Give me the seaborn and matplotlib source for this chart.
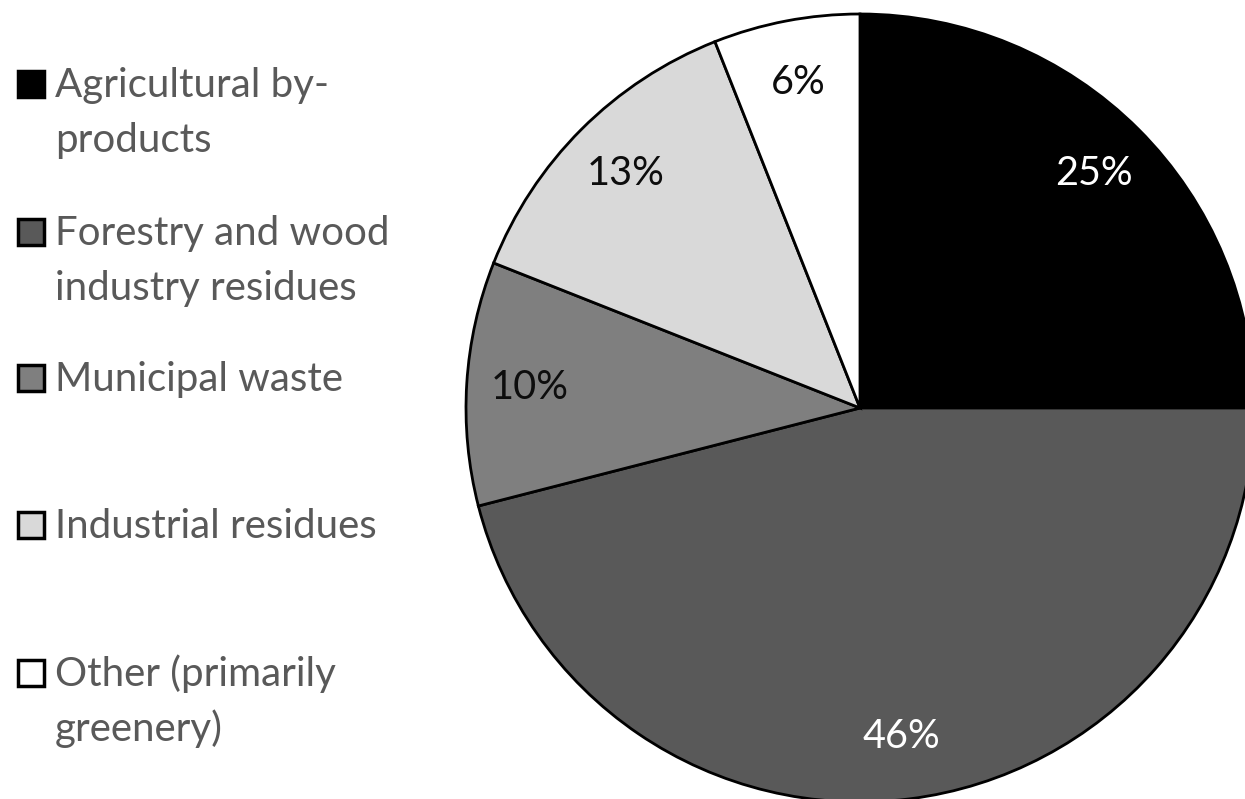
import matplotlib
matplotlib.use("Agg")
import matplotlib.pyplot as plt
from matplotlib.patches import Rectangle
import seaborn as sns

categories = ["Agricultural by-\nproducts",
              "Forestry and wood\nindustry residues",
              "Municipal waste",
              "Industrial residues",
              "Other (primarily\ngreenery)"]
shares = [25, 46, 10, 13, 6]
slice_colors = ["#000000", "#595959", "#7f7f7f", "#d9d9d9", "#ffffff"]
label_colors = ["#ffffff", "#ffffff", "#0d0d0d", "#0d0d0d", "#0d0d0d"]

sns.set_theme(style="white")
plt.rcParams["font.family"] = ["Lato", "DejaVu Sans"]

W, H = 1245, 799
fig = plt.figure(figsize=(W / 100, H / 100), dpi=100)
fig.patch.set_facecolor("white")

# pie axes: centre (860, 408) px, radius 394 px
cx, cy, r = 860, 408, 394
ax = fig.add_axes([(cx - r) / W, (H - cy - r) / H, 2 * r / W, 2 * r / H])
wedges, texts, autotexts = ax.pie(
    shares, colors=slice_colors, startangle=90, counterclock=False,
    autopct="%d%%", pctdistance=0.84, radius=1,
    wedgeprops=dict(edgecolor="black", linewidth=2),
    textprops=dict(fontsize=28.5))
for t, c in zip(autotexts, label_colors):
    t.set_color(c)
ax.set_xlim(-1, 1)
ax.set_ylim(-1, 1)
ax.set_aspect("equal")
ax.axis("off")

# manual legend on the left
tops = [71, 219, 365, 512, 660]
line_gap = 55
for lab, col, top in zip(categories, slice_colors, tops):
    fig.patches.append(Rectangle((18 / W, (H - top - 26) / H), 26 / W, 26 / H,
                                 transform=fig.transFigure, facecolor=col,
                                 edgecolor="black", linewidth=2.5))
    for i, line in enumerate(lab.split("\n")):
        fig.text(55 / W, (H - top - 26 - i * line_gap) / H, line, fontsize=29,
                 color="#595959", va="baseline", ha="left")

fig.savefig("out.png", dpi=100)
